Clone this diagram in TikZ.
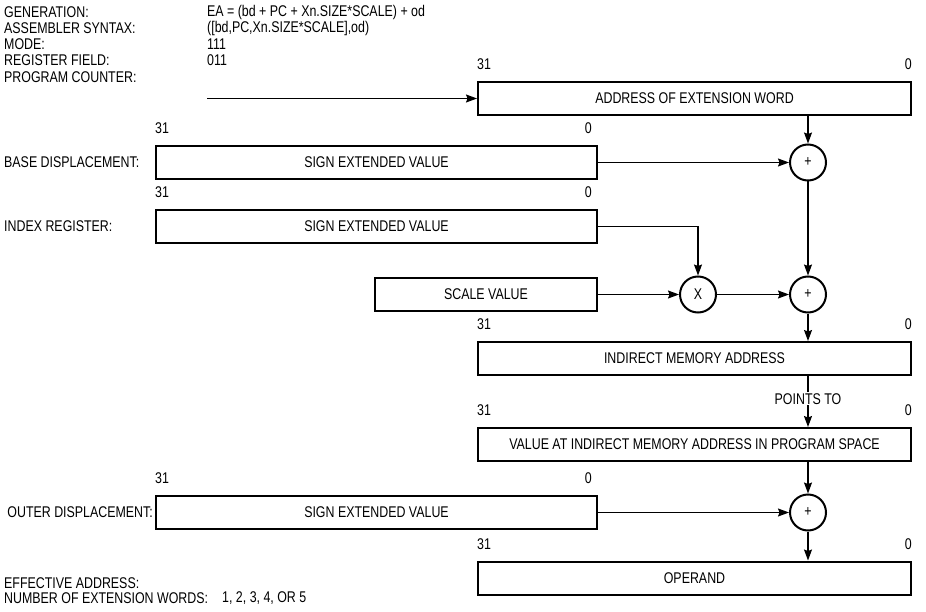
\documentclass[tikz,border=0pt]{standalone}
\usepackage{fontspec}
\setmainfont{Liberation Sans}[FakeStretch=0.8]
\usetikzlibrary{arrows.meta}

\begin{document}
\begin{tikzpicture}[x=1pt, y=-1pt,
    %Option for nice arrows
    >={Stealth[length=11pt,width=8pt,inset=1.5pt]}, %
    font=\fontsize{15.5}{17}\selectfont,%
    word/.style={draw, line width=2pt, minimum height=33pt, inner sep=0pt},
    wide/.style={word, minimum width=433pt},
    half/.style={word, minimum width=441pt},
    op/.style={draw, circle, line width=2pt, minimum size=36pt, inner sep=0pt},
    link/.style={->, line width=1.2pt},
    bit/.style={inner sep=0pt, anchor=south west},
    tag/.style={anchor=west, inner sep=0pt},
]
    \useasboundingbox (0,0) rectangle (926,612);

    % Header
    \foreach \lbl/\val/\y in {GENERATION:/{EA = (bd + PC + Xn.SIZE*SCALE) + od}/12,
            ASSEMBLER SYNTAX:/{([bd,PC,Xn.SIZE*SCALE],od)}/28,
            MODE:/111/44, REGISTER FIELD:/011/60}{
        \node[tag] (hd\y) at (4,\y) {\lbl};
        \node[tag] (hv\y) at (207,\y) {\val};
    }
    \node[tag] (pclbl) at (4,77) {PROGRAM COUNTER:};
    \coordinate (pc) at (207,98.5);

    % Words
    \node[wide] (ext) at (694.5,98.5) {ADDRESS OF EXTENSION WORD};
    \node[half] (bd)  at (376.5,162.5) {SIGN EXTENDED VALUE};
    \node[half] (ir)  at (376.5,226.5) {SIGN EXTENDED VALUE};
    \node[word, minimum width=222pt] (scl) at (486,294.5) {SCALE VALUE};
    \node[wide] (ima) at (694.5,358.5) {INDIRECT MEMORY ADDRESS};
    \node[wide] (val) at (694.5,444.5) {VALUE AT INDIRECT MEMORY ADDRESS IN PROGRAM SPACE};
    \node[half] (od)  at (376.5,512.5) {SIGN EXTENDED VALUE};
    \node[wide] (opd) at (694.5,578) {OPERAND};

    % Operators
    \node[op] (add1) at (808,162.5) {+};
    \node[op] (mul)  at (698,294.5) {X};
    \node[op] (add2) at (808,294.5) {+};
    \node[op] (add3) at (808,512.5) {+};

    % Bit numbers
    \foreach \b in {ext, ima, val, opd}{
        \node[bit] (\b-hi) at ([yshift=11pt]\b.north west) {31};
        \node[bit, anchor=south east] (\b-lo) at ([yshift=11pt]\b.north east) {0};
    }
    \foreach \b in {bd, ir, od}{
        \node[bit] (\b-hi) at ([yshift=11pt]\b.north west) {31};
        \node[bit, anchor=south east] (\b-lo) at ([xshift=-6pt,yshift=11pt]\b.north east) {0};
    }

    % Side labels
    \node[tag] (bdlbl)  at (4,162.5) {BASE DISPLACEMENT:};
    \node[tag] (irlbl)  at (4,226.5) {INDEX REGISTER:};
    \node[tag, anchor=east] (odlbl) at ([xshift=-2pt]od.west) {OUTER DISPLACEMENT:};
    \node[tag] (ealbl)  at (4,583) {EFFECTIVE ADDRESS:};
    \node[tag] (nwlbl)  at (4,598) {NUMBER OF EXTENSION WORDS:};
    \node[tag] (nwval)  at (222,598) {1, 2, 3, 4, OR 5};

    % Data flow
    \draw[link] (pc) -- (ext.west);
    \draw[link] (ext.south -| add1) -- (add1);
    \draw[link] (bd) -- (add1);
    \draw[link] (ir.east) -| (mul.north);
    \draw[link] (scl) -- (mul);
    \draw[link] (mul) -- (add2);
    \draw[link] (add1) -- (add2);
    \draw[link] (add2) -- (add2 |- ima.north);
    \draw[link] (ima.south -| add2) -- (val.north -| add2)
        node[pos=0.45, fill=white, inner sep=1pt] (pts) {POINTS TO};
    \draw[link] (val.south -| add3) -- (add3);
    \draw[link] (od) -- (add3);
    \draw[link] (add3) -- (add3 |- opd.north);
\end{tikzpicture}
\end{document}
